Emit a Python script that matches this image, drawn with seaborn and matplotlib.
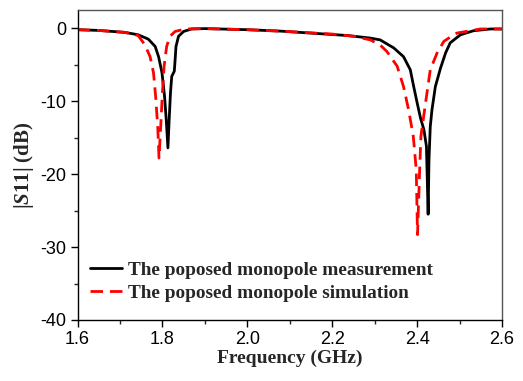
import numpy as np
import pandas as pd
import matplotlib
matplotlib.use("Agg")
import matplotlib.pyplot as plt
import seaborn as sns

meas_f = [1.600, 1.650, 1.712, 1.743, 1.767, 1.783, 1.791, 1.799, 1.805, 1.809, 1.813,
          1.816, 1.819, 1.822, 1.828, 1.830, 1.832, 1.838, 1.850, 1.869, 1.900, 2.000,
          2.080, 2.236, 2.290, 2.313, 2.345, 2.368, 2.384, 2.392, 2.400, 2.408, 2.416,
          2.422, 2.426, 2.428, 2.431, 2.435, 2.443, 2.455, 2.467, 2.478, 2.502, 2.533,
          2.573, 2.600]
meas_s = [-0.2, -0.3, -0.57, -0.9, -1.5, -2.5, -3.9, -6.1, -9.3, -12.5, -16.4,
          -12.5, -8.9, -6.6, -5.9, -4.3, -2.5, -1.1, -0.44, -0.1, -0.05, -0.2,
          -0.4, -1.0, -1.35, -1.6, -2.7, -3.9, -5.7, -8.0, -10.2, -12.3, -13.9,
          -16.2, -25.5, -18.0, -13.5, -11.2, -8.0, -5.5, -3.4, -2.0, -0.9, -0.34,
          -0.1, -0.1]

sim_f = [1.600, 1.650, 1.712, 1.743, 1.759, 1.771, 1.779, 1.784, 1.789, 1.792, 1.796,
         1.800, 1.804, 1.810, 1.818, 1.830, 1.854, 1.900, 2.000, 2.080, 2.200, 2.250,
         2.290, 2.313, 2.329, 2.353, 2.368, 2.380, 2.391, 2.398, 2.401, 2.406, 2.409,
         2.420, 2.431, 2.447, 2.463, 2.486, 2.494, 2.549, 2.600]
sim_s = [-0.2, -0.3, -0.57, -1.0, -2.3, -3.9, -6.1, -9.3, -13.5, -17.8, -13.5,
         -8.9, -5.2, -2.5, -1.1, -0.44, -0.1, -0.05, -0.2, -0.4, -0.8, -1.1,
         -1.6, -2.3, -3.2, -5.2, -8.0, -11.2, -14.8, -19.4, -28.3, -19.4, -14.8,
         -10.2, -5.7, -3.4, -1.8, -0.9, -0.66, -0.1, -0.1]

labels = ["The poposed monopole measurement", "The poposed monopole simulation"]
xticks = [1.6, 1.8, 2.0, 2.2, 2.4, 2.6]
yticks = [0, -10, -20, -30, -40]

df = pd.concat([
    pd.DataFrame({"f": meas_f, "s": meas_s, "series": labels[0]}),
    pd.DataFrame({"f": sim_f, "s": sim_s, "series": labels[1]}),
])

sns.set_style("ticks")
plt.rcParams["font.family"] = ["Liberation Sans", "DejaVu Sans"]
plt.rcParams["mathtext.fontset"] = "custom"
plt.rcParams["mathtext.it"] = "Liberation Serif:italic:bold"
plt.rcParams["mathtext.rm"] = "Liberation Serif:bold"

fig = plt.figure(figsize=(5.23, 3.81), dpi=100)
ax = fig.add_axes([77.5 / 523, 1 - 320 / 381, (502 - 77.5) / 523, (320 - 10) / 381])

sns.lineplot(data=df, x="f", y="s", hue="series", style="series",
             palette={labels[0]: "black", labels[1]: "#ff0000"},
             dashes={labels[0]: "", labels[1]: (4.5, 2.5)},
             linewidth=2, sort=False, estimator=None, ax=ax, legend=True)

ax.set_xlim(1.6, 2.6)
ax.set_ylim(-40, 2.5)
ax.set_xticks(xticks)
ax.set_xticklabels([f"{v:.1f}" for v in xticks])
ax.set_yticks(yticks)
ax.set_yticklabels([str(v) for v in yticks])
ax.set_xticks(np.arange(1.7, 2.6, 0.2), minor=True)
ax.set_yticks([-5, -15, -25, -35], minor=True)
ax.tick_params(which="major", direction="out", length=5, width=1, labelsize=13,
               colors="black", pad=3)
ax.tick_params(which="minor", direction="out", length=3, width=1)
for sp in ax.spines.values():
    sp.set_visible(True)
    sp.set_color("#555555")
    sp.set_linewidth(1)
ax.spines["left"].set_color("black")
ax.spines["bottom"].set_color("black")

ax.set_xlabel("Frequency (GHz)", fontsize=14, fontweight="bold", family="Liberation Serif",
              labelpad=1)
ax.set_ylabel(r"|$\mathit{S}$11| (dB)", fontsize=15, fontweight="bold",
              family="Liberation Serif", labelpad=3)

handles, labs = ax.get_legend_handles_labels()
leg = ax.legend(handles, labs, loc="lower left",
                bbox_to_anchor=((90 - 77.5) / 424.5, 0.058),
                frameon=False, handlelength=1.65, handletextpad=0.3, labelspacing=0.3,
                borderaxespad=0, borderpad=0,
                prop={"family": "Liberation Serif", "weight": "bold", "size": 13.9})

fig.savefig("out.png", dpi=100)
